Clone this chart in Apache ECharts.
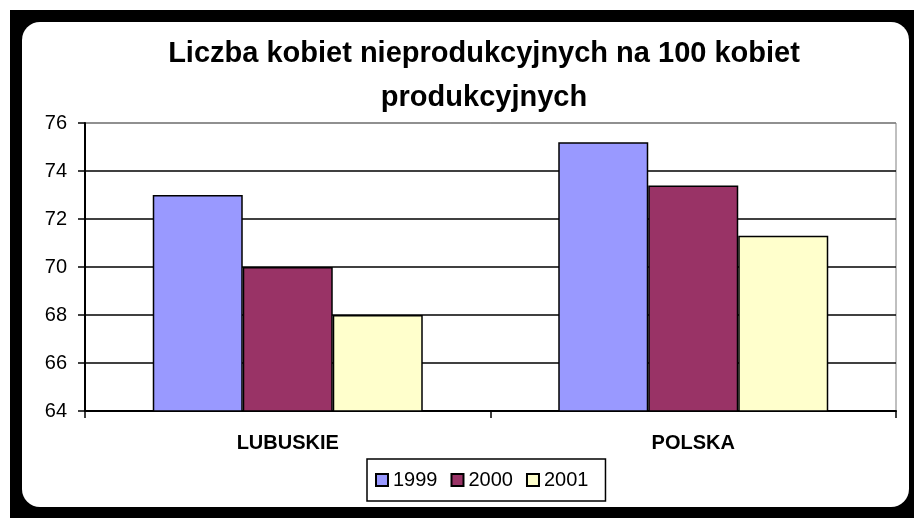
<!DOCTYPE html>
<html>
<head>
<meta charset="utf-8">
<style>
  html, body { margin: 0; padding: 0; background: #fff; }
  #chart { width: 919px; height: 518px; }
</style>
<script src="https://cdn.jsdelivr.net/npm/echarts@6/dist/echarts.min.js"></script>
</head>
<body>
<div id="chart"></div>
<script>
const titleText = 'Liczba kobiet nieprodukcyjnych na 100 kobiet\nprodukcyjnych';
const categories = ['LUBUSKIE', 'POLSKA'];
const seriesNames = ['1999', '2000', '2001'];
const values1999 = [73.0, 75.2];
const values2000 = [70.0, 73.4];
const values2001 = [68.0, 71.3];
const seriesColors = ['#9999FF', '#993366', '#FFFFCC'];
const yMin = 64, yMax = 76, yStep = 2;

const allValues = [values1999, values2000, values2001];
const chart = echarts.init(document.getElementById('chart'), null, { renderer: 'canvas' });

const option = {
  backgroundColor: '#ffffff',
  animation: false,
  graphic: [
    { type: 'rect', z: -20, shape: { x: 10, y: 10, width: 904, height: 520 }, style: { fill: '#000' } },
    { type: 'rect', z: -19, shape: { x: 22, y: 22, width: 887, height: 485, r: 18 }, style: { fill: '#fff' } }
  ],
  title: {
    text: titleText,
    left: 484,
    top: 32,
    textAlign: 'center',
    padding: 0,
    textStyle: {
      fontFamily: 'Liberation Sans, Arial, sans-serif',
      fontWeight: 'bold',
      fontSize: 29,
      lineHeight: 44,
      color: '#000'
    }
  },
  legend: {
    data: seriesNames,
    left: 367,
    top: 459,
    orient: 'horizontal',
    itemWidth: 12,
    itemHeight: 12,
    itemGap: 13,
    padding: [11, 17, 11, 8],
    borderColor: '#000',
    borderWidth: 1.5,
    icon: 'rect',
    textStyle: {
      fontFamily: 'Liberation Sans, Arial, sans-serif',
      fontSize: 20,
      color: '#000'
    }
  },
  grid: {
    left: 85,
    right: 23,
    top: 123,
    height: 288,
    show: true,
    borderColor: '#808080',
    borderWidth: 1,
    backgroundColor: 'transparent'
  },
  xAxis: {
    type: 'category',
    data: categories,
    axisLine: { lineStyle: { color: '#000', width: 2 } },
    axisTick: { show: true, length: 7, lineStyle: { color: '#000', width: 1.5 } },
    axisLabel: {
      margin: 22,
      fontFamily: 'Liberation Sans, Arial, sans-serif',
      fontWeight: 'bold',
      fontSize: 20,
      color: '#000'
    }
  },
  yAxis: {
    type: 'value',
    min: yMin,
    max: yMax,
    interval: yStep,
    axisLine: { show: true, lineStyle: { color: '#000', width: 2 } },
    axisTick: { show: true, length: 7, lineStyle: { color: '#000', width: 1.5 } },
    axisLabel: {
      margin: 18,
      fontFamily: 'Liberation Sans, Arial, sans-serif',
      fontSize: 20,
      color: '#000'
    },
    splitLine: {
      show: true,
      lineStyle: { color: ['#000', '#000', '#000', '#000', '#000', '#000', '#808080'], width: 1.5 }
    }
  },
  series: seriesNames.map((name, i) => ({
    name: name,
    type: 'bar',
    data: allValues[i],
    barWidth: 90,
    barGap: '0%',
    itemStyle: { color: seriesColors[i], borderColor: '#000', borderWidth: 1.5 }
  }))
};
chart.setOption(option);
</script>
</body>
</html>
